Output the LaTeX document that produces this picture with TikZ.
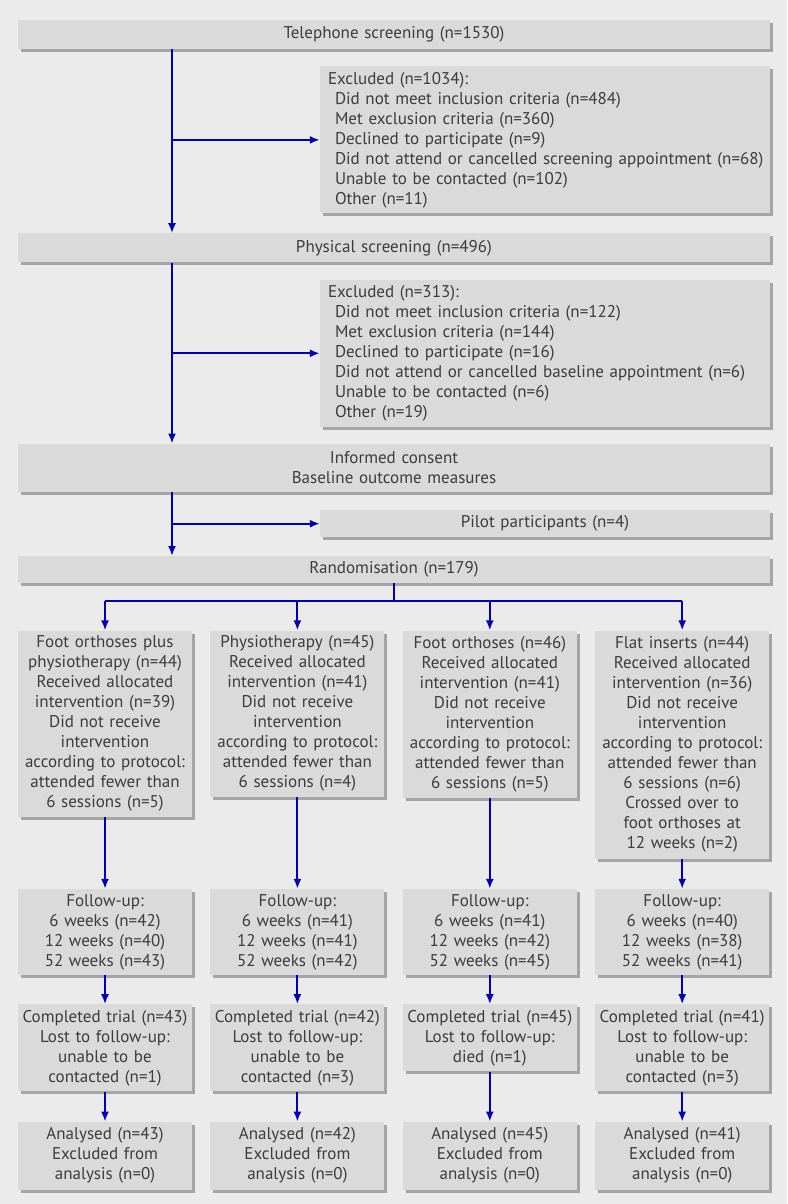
\documentclass[tikz,border=0pt]{standalone}
\usepackage{fontspec}
\setmainfont{PT Sans}
\usepackage{tikz}
\usetikzlibrary{arrows.meta, positioning, shadows, calc}
\definecolor{PageGrey}{RGB}{235,235,235}
\definecolor{BoxGrey}{RGB}{218,218,218}
\definecolor{ShadowGrey}{RGB}{165,165,165}
\definecolor{TextGrey}{RGB}{60,60,60}
\definecolor{FlowBlue}{RGB}{0,0,185}

\begin{document}
\begin{tikzpicture}[
  font=\fontsize{17}{20}\selectfont,
  text=TextGrey,
  box/.style={rectangle, fill=BoxGrey, inner ysep=2pt,
              drop shadow={shadow xshift=3pt, shadow yshift=-3pt,
                           fill=ShadowGrey, opacity=1}},
  widebox/.style={box, text width=736pt, inner xsep=8pt, align=center},
  sidebox/.style={box, text width=446pt, inner xsep=2pt, align=left},
  armbox/.style={box, text width=168pt, inner xsep=3pt, align=center},
  arrow/.style={-{Latex[length=10pt, width=8pt]}, FlowBlue, line width=2pt},
  link/.style={FlowBlue, line width=2pt},
]
\fill[PageGrey] (0,0) rectangle (787pt,-1204pt);
\useasboundingbox (0,0) rectangle (787pt,-1204pt);
\coordinate (trunk) at (172pt,0);

\node[widebox, minimum height=29pt] (tel) at (394pt,-34.5pt) {Telephone screening (n=1530)};
\node[sidebox, minimum height=147pt, below left=17pt and 0pt of tel.south east] (exc1)
  {\hspace*{6pt}Excluded (n=1034):\\
   \hspace*{13pt}Did not meet inclusion criteria (n=484)\\
   \hspace*{13pt}Met exclusion criteria (n=360)\\
   \hspace*{13pt}Declined to participate (n=9)\\
   \hspace*{13pt}Did not attend or cancelled screening appointment (n=68)\\
   \hspace*{13pt}Unable to be contacted (n=102)\\
   \hspace*{13pt}Other (n=11)};
\node[widebox, minimum height=29pt, below=184pt of tel] (phys) {Physical screening (n=496)};
\node[sidebox, minimum height=147pt, below left=17pt and 0pt of phys.south east] (exc2)
  {\hspace*{6pt}Excluded (n=313):\\
   \hspace*{13pt}Did not meet inclusion criteria (n=122)\\
   \hspace*{13pt}Met exclusion criteria (n=144)\\
   \hspace*{13pt}Declined to participate (n=16)\\
   \hspace*{13pt}Did not attend or cancelled baseline appointment (n=6)\\
   \hspace*{13pt}Unable to be contacted (n=6)\\
   \hspace*{13pt}Other (n=19)};
\node[widebox, minimum height=48pt, below=181pt of phys] (consent) {Informed consent\\Baseline outcome measures};
\node[sidebox, align=center, minimum height=27pt, below left=18pt and 0pt of consent.south east] (pilot) {Pilot participants (n=4)};
\node[widebox, minimum height=27pt, below=64pt of consent] (rand) {Randomisation (n=179)};

\node[armbox, minimum height=186pt, below right=47pt and 0pt of rand.south west] (g1)
  {Foot orthoses plus\\physiotherapy (n=44)\\Received allocated\\intervention (n=39)\\Did not receive\\intervention\\according to protocol:\\attended fewer than\\6 sessions (n=5)};
\node[armbox, minimum height=166pt, right=18pt of g1.north east, anchor=north west] (g2)
  {Physiotherapy (n=45)\\Received allocated\\intervention (n=41)\\Did not receive\\intervention\\according to protocol:\\attended fewer than\\6 sessions (n=4)};
\node[armbox, minimum height=167pt, right=18pt of g2.north east, anchor=north west] (g3)
  {Foot orthoses (n=46)\\Received allocated\\intervention (n=41)\\Did not receive\\intervention\\according to protocol:\\attended fewer than\\6 sessions (n=5)};
\node[armbox, minimum height=228pt, right=18pt of g3.north east, anchor=north west] (g4)
  {Flat inserts (n=44)\\Received allocated\\intervention (n=36)\\Did not receive\\intervention\\according to protocol:\\attended fewer than\\6 sessions (n=6)\\Crossed over to\\foot orthoses at\\12 weeks (n=2)};

\node[armbox, minimum height=86pt, below=72pt of g1] (f1) {Follow-up:\\6 weeks (n=42)\\12 weeks (n=40)\\52 weeks (n=43)};
\node[armbox, minimum height=86pt, right=18pt of f1.north east, anchor=north west] (f2) {Follow-up:\\6 weeks (n=41)\\12 weeks (n=41)\\52 weeks (n=42)};
\node[armbox, minimum height=86pt, right=18pt of f2.north east, anchor=north west] (f3) {Follow-up:\\6 weeks (n=41)\\12 weeks (n=42)\\52 weeks (n=45)};
\node[armbox, minimum height=86pt, right=18pt of f3.north east, anchor=north west] (f4) {Follow-up:\\6 weeks (n=40)\\12 weeks (n=38)\\52 weeks (n=41)};

\node[armbox, minimum height=87pt, below=29pt of f1] (c1) {Completed trial (n=43)\\Lost to follow-up:\\unable to be\\contacted (n=1)};
\node[armbox, minimum height=87pt, right=18pt of c1.north east, anchor=north west] (c2) {Completed trial (n=42)\\Lost to follow-up:\\unable to be\\contacted (n=3)};
\node[armbox, minimum height=67pt, right=18pt of c2.north east, anchor=north west] (c3) {Completed trial (n=45)\\Lost to follow-up:\\died (n=1)};
\node[armbox, minimum height=87pt, right=18pt of c3.north east, anchor=north west] (c4) {Completed trial (n=41)\\Lost to follow-up:\\unable to be\\contacted (n=3)};

\node[armbox, minimum height=68pt, below=30pt of c1] (a1) {Analysed (n=43)\\Excluded from\\analysis (n=0)};
\node[armbox, minimum height=68pt, right=18pt of a1.north east, anchor=north west] (a2) {Analysed (n=42)\\Excluded from\\analysis (n=0)};
\node[armbox, minimum height=68pt, right=18pt of a2.north east, anchor=north west] (a3) {Analysed (n=45)\\Excluded from\\analysis (n=0)};
\node[armbox, minimum height=68pt, right=18pt of a3.north east, anchor=north west] (a4) {Analysed (n=41)\\Excluded from\\analysis (n=0)};

\draw[arrow] (tel.south -| trunk) -- (phys.north -| trunk);
\draw[arrow] (exc1.west -| trunk) -- (exc1.west);
\draw[arrow] (phys.south -| trunk) -- (consent.north -| trunk);
\draw[arrow] (exc2.west -| trunk) -- (exc2.west);
\draw[arrow] (consent.south -| trunk) -- (rand.north -| trunk);
\draw[arrow] (pilot.west -| trunk) -- (pilot.west);

\draw[link] (rand.south) -- ++(0,-18pt) coordinate (split);
\draw[link] (split -| g1.north) -- (split -| g4.north);
\foreach \g in {g1,g2,g3,g4}
  \draw[arrow] (split -| \g.north) -- (\g.north);

\foreach \i in {1,2,3,4} {
  \draw[arrow] (g\i) -- (f\i);
  \draw[arrow] (f\i) -- (c\i);
  \draw[arrow] (c\i) -- (a\i);
}
\end{tikzpicture}
\end{document}
